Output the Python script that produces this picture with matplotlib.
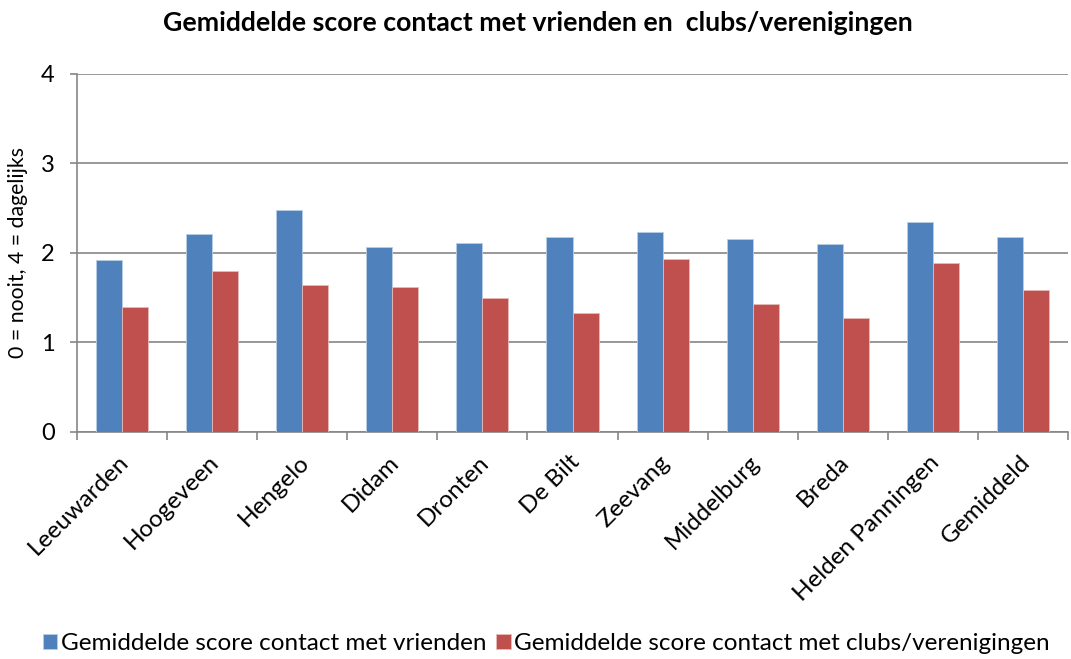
import matplotlib
matplotlib.use("Agg")
import matplotlib.pyplot as plt
import numpy as np

categories = ["Leeuwarden", "Hoogeveen", "Hengelo", "Didam", "Dronten", "De Bilt",
              "Zeevang", "Middelburg", "Breda", "Helden Panningen", "Gemiddeld"]
vrienden = [1.92, 2.21, 2.48, 2.07, 2.11, 2.18, 2.23, 2.16, 2.10, 2.35, 2.18]
clubs = [1.40, 1.80, 1.64, 1.62, 1.50, 1.33, 1.93, 1.43, 1.27, 1.89, 1.58]
series_names = ["Gemiddelde score contact met vrienden",
                "Gemiddelde score contact met clubs/verenigingen"]
title = "Gemiddelde score contact met vrienden en  clubs/verenigingen"
ylabel = "0 = nooit, 4 = dagelijks"

plt.rcParams['font.family'] = ['Lato', 'DejaVu Sans']

fig = plt.figure(figsize=(10.71, 6.59), dpi=100)
ax = fig.add_axes([0.0719, 0.3445, 0.9253, 0.5435])

x = np.arange(len(categories))
w = 0.289
blue = "#4F81BD"
red = "#C0504D"
ax.bar(x - w / 2, vrienden, w, color=blue, edgecolor="#B9CDE5", linewidth=0.6,
       label=series_names[0], zorder=3)
ax.bar(x + w / 2, clubs, w, color=red, edgecolor="#E6B9B8", linewidth=0.6,
       label=series_names[1], zorder=3)

ax.set_xlim(-0.5, len(categories) - 0.5)
ax.set_ylim(0, 4)
ax.set_yticks([0, 1, 2, 3, 4])
ax.yaxis.grid(True, color="#868686", linewidth=1.2, zorder=0)
for s in ["top", "right"]:
    ax.spines[s].set_visible(False)
for s in ["left", "bottom"]:
    ax.spines[s].set_color("#868686")
    ax.spines[s].set_linewidth(1.2)

ax.set_xticks(np.arange(len(categories) + 1) - 0.5)
ax.set_xticklabels([])
ax.set_xticks(x, minor=True)
ax.set_xticklabels(categories, minor=True, rotation=45, ha="right",
                   rotation_mode="anchor", fontsize=17.5)
ax.tick_params(axis="x", which="minor", length=0, pad=14)
ax.tick_params(axis="x", which="major", length=6, color="#868686", width=1.2)
ax.tick_params(axis="y", length=5, color="#868686", width=1.2, labelsize=17, pad=11)
for lbl in ax.get_xticklabels(minor=True):
    lbl.set_transform(lbl.get_transform() + matplotlib.transforms.ScaledTranslation(-0.04, 0, fig.dpi_scale_trans))

ax.set_ylabel(ylabel, fontsize=15.3, labelpad=9)

fig.text(0.502, 0.965, title, ha="center", va="center", fontsize=19.2, fontweight="bold")

fig.legend(loc="lower center", bbox_to_anchor=(0.51, -0.026), ncol=2, frameon=False,
           fontsize=17.5, handlelength=0.6, handleheight=0.6, handletextpad=0.15,
           columnspacing=0.4)

fig.savefig("out.png", dpi=100)
